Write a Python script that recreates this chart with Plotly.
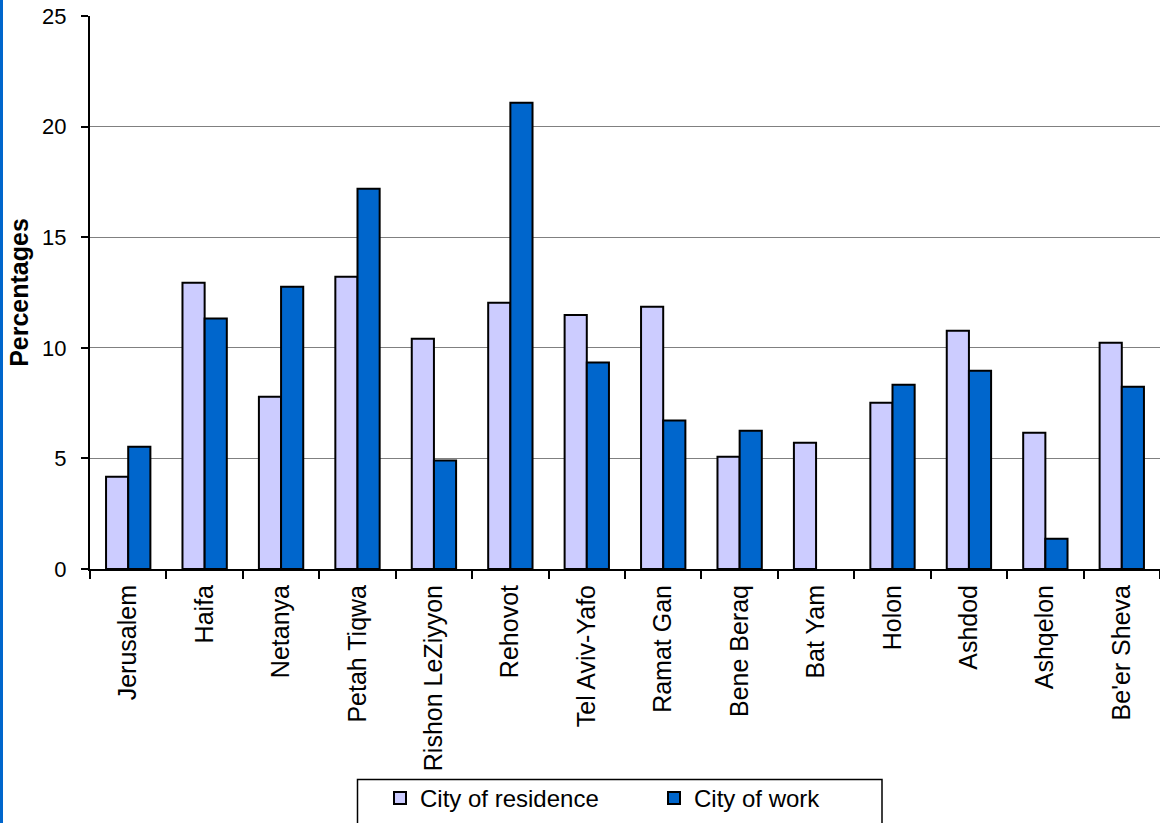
import plotly.graph_objects as go

cities = ["Jerusalem", "Haifa", "Netanya", "Petah Tiqwa", "Rishon LeZiyyon", "Rehovot",
          "Tel Aviv-Yafo", "Ramat Gan", "Bene Beraq", "Bat Yam", "Holon", "Ashdod",
          "Ashqelon", "Be'er Sheva"]
residence = [4.17, 12.94, 7.79, 13.21, 10.41, 12.04, 11.48, 11.86, 5.08, 5.71, 7.52, 10.77, 6.16, 10.23]
work = [5.53, 11.32, 12.76, 17.19, 4.90, 21.08, 9.33, 6.71, 6.25, 0, 8.33, 8.96, 1.37, 8.24]
y_ticks = [0, 5, 10, 15, 20, 25]

FONT = "Arial, Liberation Sans, sans-serif"

fig = go.Figure()
fig.add_trace(go.Bar(x=cities, y=residence, name="City of residence",
                     marker=dict(color="#CCCCFF",
                                 line=dict(color="black", width=[2 if v else 0 for v in residence]))))
fig.add_trace(go.Bar(x=cities, y=work, name="City of work",
                     marker=dict(color="#0066CC",
                                 line=dict(color="black", width=[2 if v else 0 for v in work]))))

PW, PH = 1070, 553
def px(x):
    return (x - 90) / PW
def py(y):
    return (569 - y) / PH

fig.update_layout(
    width=1160, height=823,
    margin=dict(l=90, r=0, t=16, b=254, autoexpand=False),
    paper_bgcolor="white", plot_bgcolor="white",
    barmode="group", bargap=0.42, bargroupgap=0,
    font=dict(family=FONT, color="black", size=22),
    showlegend=True,
    legend=dict(orientation="h", x=px(380), xanchor="left",
                y=py(776), yanchor="top",
                borderwidth=0, bgcolor="rgba(0,0,0,0)",
                font=dict(size=24, family=FONT), entrywidth=229, entrywidthmode="pixels",
                traceorder="normal"),
    shapes=[
        dict(type="rect", xref="paper", yref="paper",
             x0=px(0), x1=px(3), y0=py(823), y1=py(0),
             fillcolor="#0066CC", line=dict(width=0), layer="above"),
        dict(type="rect", xref="paper", yref="paper",
             x0=px(357.5), x1=px(882), y0=py(840), y1=py(779.5),
             fillcolor="white", line=dict(color="black", width=1.5), layer="below"),
    ],
)

fig.update_xaxes(
    type="category", tickangle=-90, tickfont=dict(size=25, family=FONT),
    showline=True, linecolor="black", linewidth=2,
    ticks="outside", ticklen=8, tickwidth=2, tickcolor="black",
    tickson="boundaries", showgrid=False, automargin=False,
    ticklabelstandoff=4,
)
fig.update_yaxes(
    range=[0, 25], tickvals=y_ticks, tickfont=dict(size=22, family=FONT),
    showline=True, linecolor="black", linewidth=2,
    ticks="outside", ticklen=7, tickwidth=2, tickcolor="black",
    showgrid=True, gridcolor="#808080", gridwidth=1.2, zeroline=False,
    automargin=False, ticklabelstandoff=10,
    title=dict(text="<b>Percentages</b>", font=dict(size=25, family=FONT), standoff=6),
)

fig.write_html("out.html")
